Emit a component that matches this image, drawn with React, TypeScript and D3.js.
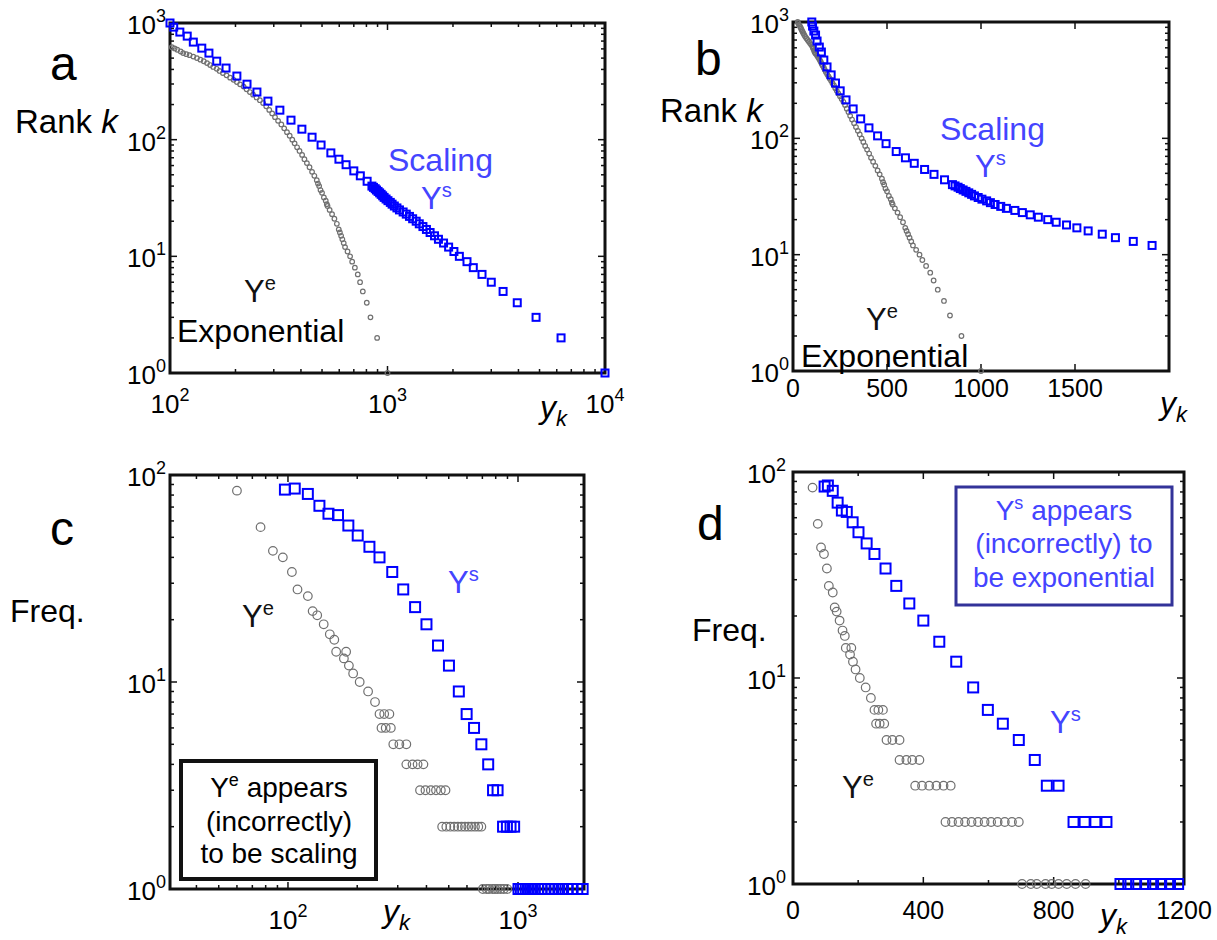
import React from 'react';
import * as d3 from 'd3';

// ---- rank plots (panels a, b) ----
const scalingRank = [1, 2, 3, 4, 5, 6, 7, 8, 9, 10, 11, 12, 13, 14, 15, 16, 17, 18, 19, 20,
  21, 22, 23, 24, 25, 26, 27, 28, 29, 30, 31, 32, 33, 34, 35, 36, 37, 38, 39, 40,
  44, 49, 54, 61, 68, 77, 90, 105, 123, 147, 179, 214, 256, 299, 351, 411, 471, 552, 609, 686, 772, 836, 922, 1000];
const scalingValue = [10000, 6280, 4820, 3950, 3400, 3000, 2720, 2480, 2320, 2140, 2020, 1910, 1810, 1715, 1645, 1570, 1510, 1455, 1400, 1355,
  1305, 1262, 1220, 1180, 1135, 1105, 1075, 1050, 1030, 1005, 985, 965, 950, 935, 920, 905, 890, 878, 862, 848,
  806, 750, 700, 645, 598, 549, 495, 450, 404, 360, 320, 282, 251, 226, 203, 181, 164, 151, 140, 128, 120, 111, 104, 100];

const expRank = [1000, 975, 950, 925, 900, 875, 850, 825, 800, 775, 750, 725, 700, 680, 660, 640, 621, 605, 590, 570,
  552, 540, 530, 515, 500, 485, 470, 453, 436, 420, 405, 388, 372, 356, 340, 326, 312, 298, 285, 270,
  256, 243, 230, 218, 206, 193, 180, 168, 156, 145, 135, 125, 116, 108, 100, 93, 86, 80, 74, 68,
  63, 58, 53, 49, 45, 42, 40, 37, 35, 32, 30, 28, 27, 25, 23, 21, 19, 17, 16, 15,
  14, 13, 12, 11, 10, 9, 8, 7, 6, 5, 4, 3, 2, 1];
const expValue = [25, 28, 32, 36, 40, 43, 47, 51, 55, 60, 65, 71, 78, 84, 90, 96, 102, 105, 108, 112,
  115, 119, 123, 128, 133, 138, 143, 148, 153, 158, 164, 169, 175, 182, 189, 196, 203, 210, 218, 225,
  233, 241, 250, 259, 268, 277, 286, 295, 304, 314, 325, 335, 345, 355, 365, 374, 384, 394, 405, 415,
  426, 438, 450, 461, 473, 479, 485, 492, 500, 510, 520, 526, 530, 542, 556, 570, 585, 597, 604, 612,
  620, 629, 638, 655, 673, 688, 708, 730, 748, 770, 803, 835, 896, 1000];

// ---- frequency plots (panels c, d) ----
const scalingBin = [97, 107, 122, 137, 150, 165, 183, 201, 226, 250, 284, 317, 357, 400, 449, 501, 553, 598, 644, 693,
  742, 779, 815, 861, 895, 928, 962, 1005, 1029, 1053, 1081, 1105, 1130, 1157, 1182, 1220, 1262, 1305, 1355, 1400,
  1455, 1510, 1570, 1645, 1715, 1810, 1910, 2020];
const scalingFreq = [85, 86, 81, 71, 65, 64, 57, 51, 45, 40, 34, 28, 23, 19, 15, 12, 9, 7, 6, 5,
  4, 3, 3, 2, 2, 2, 2, 1, 1, 1, 1, 1, 1, 1, 1, 1, 1, 1, 1, 1,
  1, 1, 1, 1, 1, 1, 1, 1];

const expBin = [60, 76, 86, 95, 104, 110, 122, 128, 134, 143, 152, 159, 162, 175, 179, 184, 192, 205, 223, 239,
  250, 262, 276, 255, 266, 280, 287, 305, 327, 327, 348, 366, 388, 375, 396, 418, 440, 462, 484, 468,
  488, 508, 528, 548, 568, 588, 608, 628, 650, 672, 693, 703, 730, 748, 775, 794, 815, 840, 867, 898];
const expFreq = [84, 56, 43, 40, 34, 28, 26, 22, 21, 19, 17, 16, 14, 13, 14, 12, 11, 10, 9, 8,
  7, 7, 7, 6, 6, 6, 5, 5, 5, 4, 4, 4, 4, 3, 3, 3, 3, 3, 3, 2,
  2, 2, 2, 2, 2, 2, 2, 2, 2, 2, 2, 1, 1, 1, 1, 1, 1, 1, 1, 1];

const FONT = "'Liberation Sans', Arial, Helvetica, sans-serif";
const BLUE = '#0000ff';
const TEXT_BLUE = '#4444ff';
const GRAY = '#707070';

const isPow10 = (v: number) => Math.abs(Math.log10(v) - Math.round(Math.log10(v))) < 1e-9;

function Frame({ xs, ys, xTicks, yTicks, xMajor, yMajor }: any) {
  const [x0, x1] = xs.range();
  const [y1, y0] = ys.range();
  return (
    <g stroke="#111">
      <rect x={x0} y={y0} width={x1 - x0} height={y1 - y0} fill="none" strokeWidth={3} />
      {xTicks.map((v: number, i: number) => {
        const p = xs(v);
        const len = xMajor(v) ? 7 : 4;
        return (
          <g key={'x' + i} strokeWidth={1.5}>
            <line x1={p} x2={p} y1={y1} y2={y1 - len} />
            <line x1={p} x2={p} y1={y0} y2={y0 + len} />
          </g>
        );
      })}
      {yTicks.map((v: number, i: number) => {
        const p = ys(v);
        const len = yMajor(v) ? 7 : 4;
        return (
          <g key={'y' + i} strokeWidth={1.5}>
            <line x1={x0} x2={x0 + len} y1={p} y2={p} />
            <line x1={x1} x2={x1 - len} y1={p} y2={p} />
          </g>
        );
      })}
    </g>
  );
}

function Pow({ x, y, e, anchor }: any) {
  return (
    <text x={x} y={y} textAnchor={anchor} fontSize={26}>
      10<tspan dy={-12} fontSize={18}>{e}</tspan>
    </text>
  );
}

function Squares({ xs, ys, xv, yv, size }: any) {
  const [a, b] = xs.domain();
  return (
    <g fill="none" stroke={BLUE} strokeWidth={2}>
      {xv.map((v: number, i: number) => (v < a * 0.999 || v > b * 1.001) ? null : (
        <rect key={i} x={xs(v) - size / 2} y={ys(yv[i]) - size / 2} width={size} height={size} />
      ))}
    </g>
  );
}

function Circles({ xs, ys, xv, yv, r }: any) {
  const [a, b] = xs.domain();
  return (
    <g fill="none" stroke={GRAY} strokeWidth={1.2}>
      {xv.map((v: number, i: number) => (v < a * 0.999 || v > b * 1.001) ? null : (
        <circle key={i} cx={xs(v)} cy={ys(yv[i])} r={r} />
      ))}
    </g>
  );
}

const YSup = ({ x, y, sup, color, size = 31 }: any) => (
  <text x={x} y={y} fill={color} fontSize={size}>
    Y<tspan dy={-size * 0.4} fontSize={size * 0.65}>{sup}</tspan>
  </text>
);

const YK = ({ x, y }: any) => (
  <text x={x} y={y} fontSize={32} fontStyle="italic">
    y<tspan dy={8} fontSize={22}>k</tspan>
  </text>
);

export default function App() {
  // panel a
  const ax = d3.scaleLog().domain([100, 10000]).range([170, 605]);
  const ay = d3.scaleLog().domain([1, 1000]).range([373, 23]);
  // panel b
  const bx = d3.scaleLinear().domain([0, 2000]).range([793, 1169]);
  const by = d3.scaleLog().domain([1, 1000]).range([371, 22]);
  // panel c
  const cx = d3.scaleLog().domain([30.7, 1936]).range([170, 584]);
  const cy = d3.scaleLog().domain([1, 100]).range([889, 475]);
  // panel d
  const dx = d3.scaleLinear().domain([0, 1200]).range([793, 1184]);
  const dy = d3.scaleLog().domain([1, 100]).range([884, 472]);

  const yes = () => true;

  return (
    <svg width={1217} height={940} style={{ position: 'absolute', left: 0, top: 0, background: '#fff' }}
      fontFamily={FONT}>
      <rect width={1217} height={940} fill="#fff" />

      {/* ---------- a ---------- */}
      <Frame xs={ax} ys={ay} xTicks={ax.ticks()} yTicks={ay.ticks()} xMajor={isPow10} yMajor={isPow10} />
      <Circles xs={ax} ys={ay} xv={expValue} yv={expRank} r={2.3} />
      <Squares xs={ax} ys={ay} xv={scalingValue} yv={scalingRank} size={7} />
      {[2, 3, 4].map(e => <Pow key={e} x={ax(10 ** e)} y={413} e={e} anchor="middle" />)}
      {[0, 1, 2, 3].map(e => <Pow key={e} x={166} y={ay(10 ** e) + 11} e={e} anchor="end" />)}
      <text x={50} y={80} fontSize={48}>a</text>
      <text x={15} y={133} fontSize={33}>Rank <tspan fontStyle="italic">k</tspan></text>
      <YK x={540} y={418} />
      <text x={388} y={171} fill={TEXT_BLUE} fontSize={32}>Scaling</text>
      <YSup x={421} y={209} sup="s" color={TEXT_BLUE} />
      <YSup x={244} y={302} sup="e" color="#111" />
      <text x={177} y={342} fontSize={32}>Exponential</text>

      {/* ---------- b ---------- */}
      <Frame xs={bx} ys={by} xTicks={[0, 500, 1000, 1500]} yTicks={by.ticks()} xMajor={yes} yMajor={isPow10} />
      <Circles xs={bx} ys={by} xv={expValue} yv={expRank} r={2.3} />
      <Squares xs={bx} ys={by} xv={scalingValue} yv={scalingRank} size={7} />
      {[0, 500, 1000, 1500].map(v => (
        <text key={v} x={bx(v)} y={397} textAnchor="middle" fontSize={25}>{v}</text>
      ))}
      {[0, 1, 2, 3].map(e => <Pow key={e} x={789} y={by(10 ** e) + 11} e={e} anchor="end" />)}
      <text x={695} y={75} fontSize={48}>b</text>
      <text x={660} y={122} fontSize={33}>Rank <tspan fontStyle="italic">k</tspan></text>
      <YK x={1160} y={414} />
      <text x={940} y={140} fill={TEXT_BLUE} fontSize={32}>Scaling</text>
      <YSup x={975} y={177} sup="s" color={TEXT_BLUE} />
      <YSup x={866} y={330} sup="e" color="#111" />
      <text x={801} y={367} fontSize={32}>Exponential</text>

      {/* ---------- c ---------- */}
      <Frame xs={cx} ys={cy} xTicks={cx.ticks()} yTicks={cy.ticks()} xMajor={isPow10} yMajor={isPow10} />
      <Circles xs={cx} ys={cy} xv={expBin} yv={expFreq} r={4.3} />
      <Squares xs={cx} ys={cy} xv={scalingBin} yv={scalingFreq} size={10} />
      {[2, 3].map(e => <Pow key={e} x={cx(10 ** e)} y={929} e={e} anchor="middle" />)}
      {[0, 1, 2].map(e => <Pow key={e} x={166} y={cy(10 ** e) + 11} e={e} anchor="end" />)}
      <text x={50} y={545} fontSize={48}>c</text>
      <text x={10} y={622} fontSize={32}>Freq.</text>
      <YK x={383} y={922} />
      <YSup x={448} y={593} sup="s" color={TEXT_BLUE} />
      <YSup x={242} y={627} sup="e" color="#111" />
      <rect x={181} y={761} width={195} height={118} fill="#fff" stroke="#111" strokeWidth={4} />
      <g fontSize={28} textAnchor="middle">
        <text x={279} y={797}>Y<tspan dy={-11} fontSize={18}>e</tspan><tspan dy={11}> appears</tspan></text>
        <text x={279} y={831}>(incorrectly)</text>
        <text x={279} y={863}>to be scaling</text>
      </g>

      {/* ---------- d ---------- */}
      <Frame xs={dx} ys={dy} xTicks={[0, 200, 400, 600, 800, 1000, 1200]} yTicks={dy.ticks()}
        xMajor={(v: number) => v % 400 === 0} yMajor={isPow10} />
      <Circles xs={dx} ys={dy} xv={expBin} yv={expFreq} r={4.3} />
      <Squares xs={dx} ys={dy} xv={scalingBin} yv={scalingFreq} size={10} />
      {[0, 400, 800, 1200].map(v => (
        <text key={v} x={dx(v)} y={919} textAnchor="middle" fontSize={25}>{v}</text>
      ))}
      {[0, 1, 2].map(e => <Pow key={e} x={786} y={dy(10 ** e) + 11} e={e} anchor="end" />)}
      <text x={697} y={540} fontSize={48}>d</text>
      <text x={692} y={641} fontSize={32}>Freq.</text>
      <YK x={1100} y={926} />
      <YSup x={1050} y={733} sup="s" color={TEXT_BLUE} />
      <YSup x={842} y={798} sup="e" color="#111" />
      <rect x={956} y={487} width={216} height={118} fill="#fff" stroke="#333399" strokeWidth={3} />
      <g fontSize={28} textAnchor="middle" fill={TEXT_BLUE}>
        <text x={1064} y={520}>Y<tspan dy={-11} fontSize={18}>s</tspan><tspan dy={11}> appears</tspan></text>
        <text x={1064} y={553}>(incorrectly) to</text>
        <text x={1064} y={587}>be exponential</text>
      </g>
    </svg>
  );
}
